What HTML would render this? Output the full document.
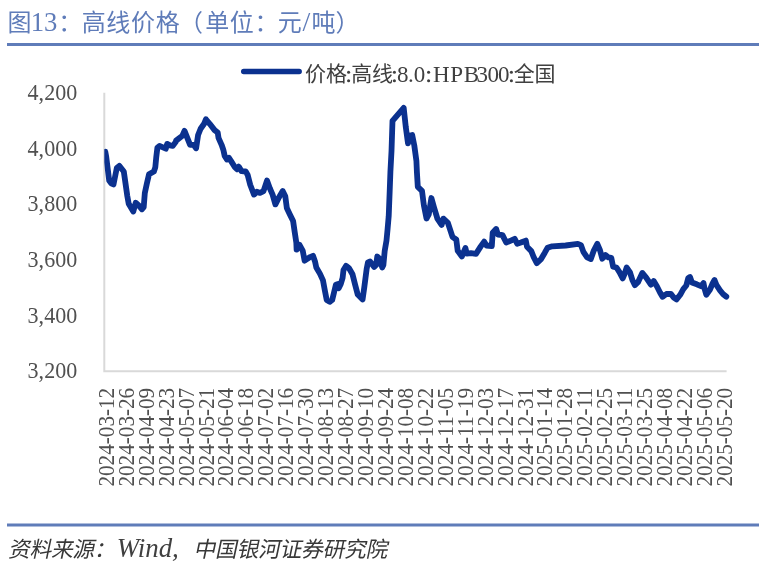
<!DOCTYPE html>
<html lang="zh"><head><meta charset="utf-8"><title>图13：高线价格（单位：元/吨）</title>
<style>html,body{margin:0;padding:0;background:#fff;}body{width:759px;height:571px;overflow:hidden;font-family:"Liberation Serif",serif;}svg{display:block;will-change:transform}</style>
</head><body>
<svg width="759" height="571" viewBox="0 0 759 571" role="img" aria-label="图13：高线价格（单位：元/吨） 资料来源：Wind，中国银河证券研究院">
<text x="7.55 58.18 81.65 106.35 131.05 155.75 178.97 205.15 229.85 254.55 277.77 311.55 335.45" y="30.5" font-family="'Liberation Sans','Noto Sans CJK SC',sans-serif" font-size="24" fill="#5f7cb9">图：高线价格（单位：元吨）</text>
<text x="30.7" y="30.6" font-family="Liberation Serif" font-size="28" fill="#5f7cb9" textLength="26.7" lengthAdjust="spacingAndGlyphs">13</text>
<text x="302.4" y="30.6" font-family="Liberation Serif" font-size="28" fill="#5f7cb9">/</text>
<rect x="7" y="43" width="752" height="3" fill="#5f7cb9"/>
<rect x="7" y="523.5" width="752" height="3" fill="#5f7cb9"/>
<text transform="translate(0 556.7) skewX(-12)" x="8.1 29.5 50.9 72.3 93.7" y="0" font-family="'Liberation Sans','Noto Sans CJK SC',sans-serif" font-size="21.8" fill="#383838">资料来源：</text>
<text transform="translate(0 556.7) skewX(-12)" x="193.5 215 236.5 258 279.5 301 322.5 344 365.5" y="0" font-family="'Liberation Sans','Noto Sans CJK SC',sans-serif" font-size="21.8" fill="#383838">中国银河证券研究院</text>
<text x="116.8" y="556.6999999999999" font-family="Liberation Serif" font-style="italic" font-size="27.5" fill="#404040" textLength="62" lengthAdjust="spacingAndGlyphs">Wind,</text>
<line x1="243.7" y1="71.5" x2="299.2" y2="71.5" stroke="#0b318f" stroke-width="5.4" stroke-linecap="round"/>
<text x="305.05 326.05" y="80.9" font-family="'Liberation Sans','Noto Sans CJK SC',sans-serif" font-size="21" fill="#404040">价格</text>
<text x="351.25 371.95" y="80.9" font-family="'Liberation Sans','Noto Sans CJK SC',sans-serif" font-size="21" fill="#404040">高线</text>
<text x="513.85 534.55" y="80.9" font-family="'Liberation Sans','Noto Sans CJK SC',sans-serif" font-size="21" fill="#404040">全国</text>
<text x="396.9 408.1 413.8" y="81.60000000000001" font-family="Liberation Serif" font-size="23" fill="#404040">8.0</text>
<text x="432.9 450.3 463.7 476.5 487.4 498.0" y="81.60000000000001" font-family="Liberation Serif" font-size="23" fill="#404040">HPB300</text>
<circle cx="348.6" cy="72.2" r="1.55" fill="#404040"/><circle cx="348.6" cy="80.7" r="1.55" fill="#404040"/>
<circle cx="394.4" cy="72.2" r="1.55" fill="#404040"/><circle cx="394.4" cy="80.7" r="1.55" fill="#404040"/>
<circle cx="428.6" cy="72.2" r="1.55" fill="#404040"/><circle cx="428.6" cy="80.7" r="1.55" fill="#404040"/>
<circle cx="511.4" cy="72.2" r="1.55" fill="#404040"/><circle cx="511.4" cy="80.7" r="1.55" fill="#404040"/>
<path d="M104.3 92.75V371.2H726.6" fill="none" stroke="#d9d9d9" stroke-width="2"/>
<text x="77.2" y="99.8" text-anchor="end" font-family="Liberation Serif" font-size="23" fill="#505050" textLength="49.6" lengthAdjust="spacingAndGlyphs">4,200</text>
<text x="77.2" y="155.5" text-anchor="end" font-family="Liberation Serif" font-size="23" fill="#505050" textLength="49.6" lengthAdjust="spacingAndGlyphs">4,000</text>
<text x="77.2" y="211.2" text-anchor="end" font-family="Liberation Serif" font-size="23" fill="#505050" textLength="49.6" lengthAdjust="spacingAndGlyphs">3,800</text>
<text x="77.2" y="266.9" text-anchor="end" font-family="Liberation Serif" font-size="23" fill="#505050" textLength="49.6" lengthAdjust="spacingAndGlyphs">3,600</text>
<text x="77.2" y="322.6" text-anchor="end" font-family="Liberation Serif" font-size="23" fill="#505050" textLength="49.6" lengthAdjust="spacingAndGlyphs">3,400</text>
<text x="77.2" y="378.3" text-anchor="end" font-family="Liberation Serif" font-size="23" fill="#505050" textLength="49.6" lengthAdjust="spacingAndGlyphs">3,200</text>
<text transform="translate(113.80 486.6) rotate(-90)" font-family="Liberation Serif" font-size="22.6" fill="#505050" textLength="98.8" lengthAdjust="spacingAndGlyphs">2024-03-12</text>
<text transform="translate(133.74 486.6) rotate(-90)" font-family="Liberation Serif" font-size="22.6" fill="#505050" textLength="98.8" lengthAdjust="spacingAndGlyphs">2024-03-26</text>
<text transform="translate(153.68 486.6) rotate(-90)" font-family="Liberation Serif" font-size="22.6" fill="#505050" textLength="98.8" lengthAdjust="spacingAndGlyphs">2024-04-09</text>
<text transform="translate(173.62 486.6) rotate(-90)" font-family="Liberation Serif" font-size="22.6" fill="#505050" textLength="98.8" lengthAdjust="spacingAndGlyphs">2024-04-23</text>
<text transform="translate(193.56 486.6) rotate(-90)" font-family="Liberation Serif" font-size="22.6" fill="#505050" textLength="98.8" lengthAdjust="spacingAndGlyphs">2024-05-07</text>
<text transform="translate(213.50 486.6) rotate(-90)" font-family="Liberation Serif" font-size="22.6" fill="#505050" textLength="98.8" lengthAdjust="spacingAndGlyphs">2024-05-21</text>
<text transform="translate(233.44 486.6) rotate(-90)" font-family="Liberation Serif" font-size="22.6" fill="#505050" textLength="98.8" lengthAdjust="spacingAndGlyphs">2024-06-04</text>
<text transform="translate(253.38 486.6) rotate(-90)" font-family="Liberation Serif" font-size="22.6" fill="#505050" textLength="98.8" lengthAdjust="spacingAndGlyphs">2024-06-18</text>
<text transform="translate(273.32 486.6) rotate(-90)" font-family="Liberation Serif" font-size="22.6" fill="#505050" textLength="98.8" lengthAdjust="spacingAndGlyphs">2024-07-02</text>
<text transform="translate(293.26 486.6) rotate(-90)" font-family="Liberation Serif" font-size="22.6" fill="#505050" textLength="98.8" lengthAdjust="spacingAndGlyphs">2024-07-16</text>
<text transform="translate(313.20 486.6) rotate(-90)" font-family="Liberation Serif" font-size="22.6" fill="#505050" textLength="98.8" lengthAdjust="spacingAndGlyphs">2024-07-30</text>
<text transform="translate(333.14 486.6) rotate(-90)" font-family="Liberation Serif" font-size="22.6" fill="#505050" textLength="98.8" lengthAdjust="spacingAndGlyphs">2024-08-13</text>
<text transform="translate(353.08 486.6) rotate(-90)" font-family="Liberation Serif" font-size="22.6" fill="#505050" textLength="98.8" lengthAdjust="spacingAndGlyphs">2024-08-27</text>
<text transform="translate(373.02 486.6) rotate(-90)" font-family="Liberation Serif" font-size="22.6" fill="#505050" textLength="98.8" lengthAdjust="spacingAndGlyphs">2024-09-10</text>
<text transform="translate(392.96 486.6) rotate(-90)" font-family="Liberation Serif" font-size="22.6" fill="#505050" textLength="98.8" lengthAdjust="spacingAndGlyphs">2024-09-24</text>
<text transform="translate(412.90 486.6) rotate(-90)" font-family="Liberation Serif" font-size="22.6" fill="#505050" textLength="98.8" lengthAdjust="spacingAndGlyphs">2024-10-08</text>
<text transform="translate(432.84 486.6) rotate(-90)" font-family="Liberation Serif" font-size="22.6" fill="#505050" textLength="98.8" lengthAdjust="spacingAndGlyphs">2024-10-22</text>
<text transform="translate(452.78 486.6) rotate(-90)" font-family="Liberation Serif" font-size="22.6" fill="#505050" textLength="98.8" lengthAdjust="spacingAndGlyphs">2024-11-05</text>
<text transform="translate(472.72 486.6) rotate(-90)" font-family="Liberation Serif" font-size="22.6" fill="#505050" textLength="98.8" lengthAdjust="spacingAndGlyphs">2024-11-19</text>
<text transform="translate(492.66 486.6) rotate(-90)" font-family="Liberation Serif" font-size="22.6" fill="#505050" textLength="98.8" lengthAdjust="spacingAndGlyphs">2024-12-03</text>
<text transform="translate(512.60 486.6) rotate(-90)" font-family="Liberation Serif" font-size="22.6" fill="#505050" textLength="98.8" lengthAdjust="spacingAndGlyphs">2024-12-17</text>
<text transform="translate(532.54 486.6) rotate(-90)" font-family="Liberation Serif" font-size="22.6" fill="#505050" textLength="98.8" lengthAdjust="spacingAndGlyphs">2024-12-31</text>
<text transform="translate(552.48 486.6) rotate(-90)" font-family="Liberation Serif" font-size="22.6" fill="#505050" textLength="98.8" lengthAdjust="spacingAndGlyphs">2025-01-14</text>
<text transform="translate(572.42 486.6) rotate(-90)" font-family="Liberation Serif" font-size="22.6" fill="#505050" textLength="98.8" lengthAdjust="spacingAndGlyphs">2025-01-28</text>
<text transform="translate(592.36 486.6) rotate(-90)" font-family="Liberation Serif" font-size="22.6" fill="#505050" textLength="98.8" lengthAdjust="spacingAndGlyphs">2025-02-11</text>
<text transform="translate(612.30 486.6) rotate(-90)" font-family="Liberation Serif" font-size="22.6" fill="#505050" textLength="98.8" lengthAdjust="spacingAndGlyphs">2025-02-25</text>
<text transform="translate(632.24 486.6) rotate(-90)" font-family="Liberation Serif" font-size="22.6" fill="#505050" textLength="98.8" lengthAdjust="spacingAndGlyphs">2025-03-11</text>
<text transform="translate(652.18 486.6) rotate(-90)" font-family="Liberation Serif" font-size="22.6" fill="#505050" textLength="98.8" lengthAdjust="spacingAndGlyphs">2025-03-25</text>
<text transform="translate(672.12 486.6) rotate(-90)" font-family="Liberation Serif" font-size="22.6" fill="#505050" textLength="98.8" lengthAdjust="spacingAndGlyphs">2025-04-08</text>
<text transform="translate(692.06 486.6) rotate(-90)" font-family="Liberation Serif" font-size="22.6" fill="#505050" textLength="98.8" lengthAdjust="spacingAndGlyphs">2025-04-22</text>
<text transform="translate(712.00 486.6) rotate(-90)" font-family="Liberation Serif" font-size="22.6" fill="#505050" textLength="98.8" lengthAdjust="spacingAndGlyphs">2025-05-06</text>
<text transform="translate(731.94 486.6) rotate(-90)" font-family="Liberation Serif" font-size="22.6" fill="#505050" textLength="98.8" lengthAdjust="spacingAndGlyphs">2025-05-20</text>
<clipPath id="plot"><rect x="104.3" y="60" width="640" height="311.2"/></clipPath>
<polyline clip-path="url(#plot)" points="105.3,151.8 106.2,156.5 109.2,180.6 111.2,183.4 113.5,184.5 116.8,168 119.3,165.9 123.8,171.5 127.3,196 128.7,203.7 133.3,211.4 135.7,202.7 138.5,205.1 142,209.3 143.7,207.2 144.8,193.2 146.9,183.4 149,174.3 153.9,171.5 155.3,167.3 156.3,156.8 157.4,147.7 159.5,145.9 165.8,148.7 167.2,143.9 170,145.3 172.8,145.9 175.6,142.1 176.1,140.6 182.4,135.7 184.5,130.8 187.3,137.8 190.1,144.8 193.6,144.8 196.1,148.3 198.1,135 200.6,128.7 204.1,123.8 205.9,119.3 209.7,123.8 214.6,130.1 217.7,132.5 218.5,137.8 221.6,144.8 223.3,149.7 224.7,156 226.9,159.5 228.9,157.7 231.4,161.6 234.9,167.2 237,169.3 238.7,166.6 241.5,171.1 245.7,171.5 247.7,175 250.2,184.8 254,194.6 256.9,191.8 260,192.9 263.5,191.1 265.6,184.8 267,180.6 269.8,188.3 272.6,194.6 275.4,204.4 278.9,197.4 282.7,191.1 285.3,196.3 286.8,207.9 290,214.7 293.1,221 294.7,232 296.3,242.5 296.6,249.7 299.5,244.8 302.8,250.9 304.6,260.7 307.1,258.9 310.1,257.1 313,255.8 315,261.4 316.3,267.5 319.9,273.6 323,280.4 324.8,290.2 326.7,300 329.7,301.8 332.2,300 334,292.6 335.9,284.7 338,284 338.7,288.3 340.8,284 342.6,277.9 343.5,270 346.1,265.9 348.9,268 352.5,274.3 355.2,285 357.7,294.5 362.6,299.4 364.4,286.5 366.6,269.3 367.9,262.6 369.9,261.4 374.2,266.9 376.1,265 377.3,256.5 379.7,258.9 382.2,267.5 383.4,265 384.7,250.9 386.5,240.5 387.6,228.9 388.7,216.3 389.7,191 390.4,172 391.5,151.1 392.5,120.9 403.7,107.9 405.8,127.2 408,143.4 409.4,135.7 412.2,135 414.3,145.5 416.4,160.9 416.9,172 417.8,186.8 422,190.8 423.9,205.5 426.5,218.5 428.8,214.3 431.4,198 433.9,207 437.4,218.6 441.6,224.9 443.4,218.6 447.9,222.8 452.5,236.8 456.3,239.6 457.7,250.8 461.9,256.4 465.4,248 466.8,253.6 471,253.2 476,253.8 480.6,246.7 484.2,241.6 486.5,245.5 491.8,246.2 492.7,232.7 496.1,229 497.9,234.5 502.5,235.1 506.2,242.5 509.2,241.3 514.7,238.8 517.2,243.7 520.9,242.5 525.8,240.6 527,246.8 531.3,251.1 533.7,257.2 536.8,263.1 540.8,259.4 544.8,252.7 547.5,247.8 552.2,246.3 565.6,245.5 577.9,243.9 581,245.1 583.4,251.9 587.1,257.4 590.8,259 593.8,250.6 597.3,243.9 600,250.2 602.3,258.7 605.5,255 608.5,257.4 611.3,257.8 613.1,266.7 616.5,267.5 619.6,272.4 622.7,278.5 624.5,274.2 626.7,267.5 630,272.4 632.5,280.3 634.9,285.2 638,282.2 642.3,273 646,277.3 650.9,284.6 653.7,281 657,286.5 660,292.5 662.5,296.8 666.4,294 670.8,293.8 673.5,297.3 676.5,299.5 680.2,294.8 683.3,289.2 686.3,285.5 688.2,278.2 690,277 691.9,282.5 696.8,284.3 701,286.2 703.5,283.1 704.7,289.2 706.3,294.7 710.2,289.2 712.7,283.1 714.5,280 716.4,284.9 720,290.4 723.1,294.1 726.3,296.6" fill="none" stroke="#0b318f" stroke-width="5.8" stroke-linejoin="round" stroke-linecap="round"/>
</svg>
</body></html>
